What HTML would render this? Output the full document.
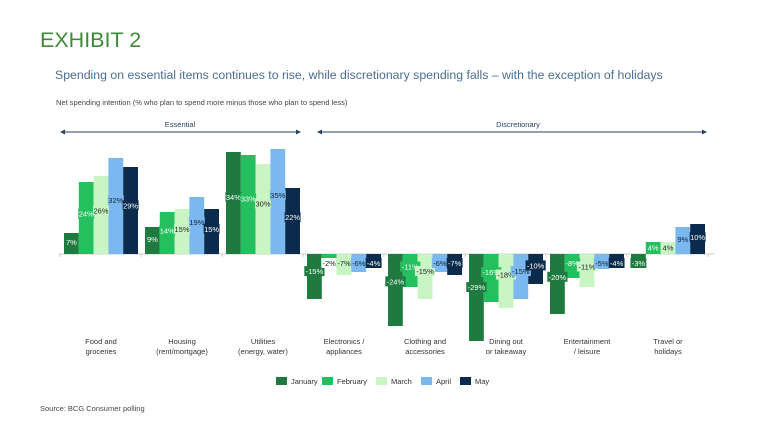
<!DOCTYPE html>
<html><head><meta charset="utf-8"><style>
body{margin:0;width:768px;height:432px;background:#fff;font-family:"Liberation Sans",sans-serif;position:relative;overflow:hidden}
.t{position:absolute;white-space:nowrap}
</style></head><body>
<div class="t" style="left:40px;top:28px;font-size:21.5px;color:#3d8b37">EXHIBIT 2</div>
<div class="t" style="left:55px;top:68px;font-size:12.3px;color:#4a6e94">Spending on essential items continues to rise, while discretionary spending falls – with the exception of holidays</div>
<div class="t" style="left:56px;top:98px;font-size:7.5px;color:#444">Net spending intention (% who plan to spend more minus those who plan to spend less)</div>
<div class="t" style="left:40px;top:404px;font-size:7.5px;color:#444">Source: BCG Consumer polling</div>
<svg id="chart" width="768" height="432" style="position:absolute;left:0;top:0"></svg>
<script>
const categories=["Food and|groceries","Housing|(rent/mortgage)","Utilities|(energy, water)","Electronics /|appliances","Clothing and|accessories","Dining out|or takeaway","Entertainment|/ leisure","Travel or|holidays"];
const months=["January","February","March","April","May"];
const january=[7,9,34,-15,-24,-29,-20,-3];
const february=[24,14,33,-2,-11,-16,-8,4];
const march=[26,15,30,-7,-15,-18,-11,4];
const april=[32,19,35,-6,-6,-15,-5,9];
const may=[29,15,22,-4,-7,-10,-4,10];
const series=[january,february,march,april,may];
const colors=["#1e7a3e","#24bf5e","#c8f5c3","#7ab8ef","#0b2b4c"];
const textColors=["#fff","#fff","#222","#123","#fff"];
const NS="http://www.w3.org/2000/svg";
const svg=document.getElementById('chart');
const base=254, k=3, gx0=64, gstep=81, bw=14.8;
const yS=v=>base-v*k;
const xS=(g,s)=>gx0+g*gstep+s*bw;
function mk(t,a){const e=document.createElementNS(NS,t);for(const n in a)e.setAttribute(n,a[n]);svg.appendChild(e);return e;}
function arrow(x1,x2,y,label,lx,name){
 const g=mk('line',{x1:x1+4,x2:x2-4,y1:y,y2:y,stroke:'#2a4466','stroke-width':1});
 
 
 mk('polygon',{points:`${x1},${y} ${x1+5},${y-2.5} ${x1+5},${y+2.5}`,fill:'#2a4466'});
 mk('polygon',{points:`${x2},${y} ${x2-5},${y-2.5} ${x2-5},${y+2.5}`,fill:'#2a4466'});
 const t=mk('text',{x:lx,y:y-5,'font-size':7.5,fill:'#2a4466','text-anchor':'middle'});t.textContent=label;
 
 
}
arrow(60,301,132,'Essential',180,'essential');
arrow(317,707,132,'Discretionary',518,'discretionary');
const ax=mk('line',{x1:58,x2:714,y1:base,y2:base,stroke:'#ccc','stroke-width':1});


for(let g=0;g<=categories.length;g++){const x=gx0-4+g*gstep;mk('line',{x1:x,x2:x,y1:base,y2:base+3,stroke:'#ccc'});}
categories.forEach((c,g)=>{
 const cx=xS(g,2.5);
 c.split('|').forEach((ln,i)=>{const t=mk('text',{x:cx,y:344+i*10,'font-size':7.5,fill:'#333','text-anchor':'middle'});t.textContent=ln;
 
 });
 series.forEach((arr,s)=>{
  const v=arr[g];const y0=yS(Math.max(v,0)),h=Math.abs(v)*k;
  const r=mk('rect',{x:xS(g,s),y:y0,width:bw,height:h,fill:colors[s]});
  
  
 });
});
categories.forEach((c,g)=>{
 series.forEach((arr,s)=>{
  const v=arr[g];
  let ly=v>=0?base-v*k*0.56:base+Math.max(v*-k*0.38,9);
  const txt=v+'%';const w=txt.length*4.3+3;const cx=xS(g,s)+bw/2;
  const small=Math.abs(v)<3&&v<0;
  mk('rect',{x:cx-w/2,y:ly-5,width:w,height:10,fill:small?'#fff':colors[s]});
  const t=mk('text',{x:cx,y:ly+3,'font-size':7.5,fill:small?'#222':textColors[s],'text-anchor':'middle'});t.textContent=txt;
  
  
 });
});
const lx=[276,322,376,421,460];
months.forEach((m,i)=>{
 const r=mk('rect',{x:lx[i],y:377,width:11,height:8,fill:colors[i]});
 
 
 const t=mk('text',{x:lx[i]+15,y:384,'font-size':7.5,fill:'#333'});t.textContent=m;
 
 
});
</script>
</body></html>
